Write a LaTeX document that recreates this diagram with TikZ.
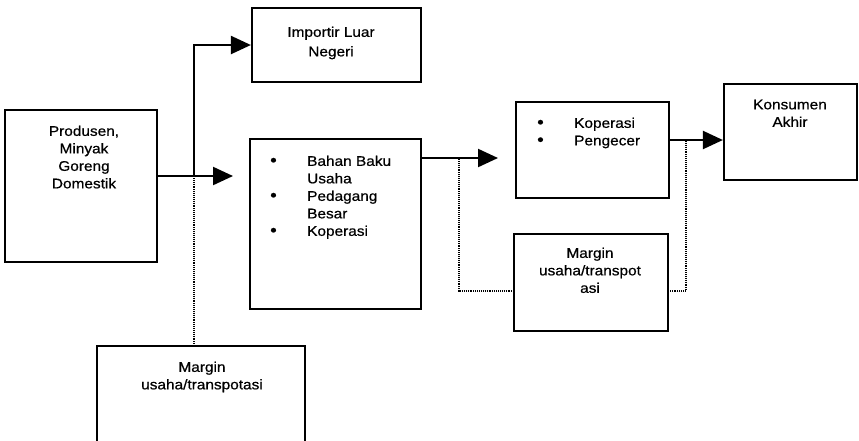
\documentclass[tikz,border=0pt]{standalone}
\usepackage{fontspec}
\setmainfont{Liberation Sans}[FakeStretch=1.1,FakeBold=0.6]
\usetikzlibrary{arrows.meta,fit}
\newcommand{\bul}{\makebox[37pt][l]{\fontsize{17}{17}\selectfont\textbullet}}
\begin{document}
\begin{tikzpicture}[x=1pt,y=-1pt,
  box/.style={draw=black,line width=2.2pt,inner sep=0pt},
  txt/.style={inner sep=0pt,anchor=north,align=center,font=\fontsize{14}{17.5}\selectfont},
  ltxt/.style={inner sep=0pt,anchor=north west,align=left,font=\fontsize{14}{17.5}\selectfont},
  flow/.style={line width=2.2pt,-{Triangle[length=20pt,width=18pt]}},
  dotline/.style={line width=1.3pt,dash pattern=on 1pt off 0.9pt}]
\useasboundingbox (0,0) rectangle (859,440);
% boxes
\node[box,fit={(252,8) (421,82)}] (imp) {};
\node[box,fit={(5,110) (157,262)}] (prod) {};
\node[box,fit={(250,139) (421,309)}] (bahan) {};
\node[box,fit={(516,102) (669,198)}] (kop) {};
\node[box,fit={(724,84) (857,180)}] (kons) {};
\node[box,fit={(514,234) (668,331)}] (margr) {};
\node[inner sep=0pt,fit={(97,346) (305,445)}] (margb) {};
\draw[line width=2.2pt] (margb.south west) -- (margb.north west) -- (margb.north east) -- (margb.south east);
% texts
\node[txt] (impT) at (331,26.5) {Importir Luar\\[2pt]Negeri};
\node[txt] (prodT) at (84,125.5) {Produsen,\\Minyak\\Goreng\\Domestik};
\node[ltxt] (bahanT) at (270,155.5) {\bul Bahan Baku\\
  \hspace*{37pt}Usaha\\
  \bul Pedagang\\
  \hspace*{37pt}Besar\\
  \bul Koperasi};
\node[ltxt] (kopT) at (537,117.5) {\bul Koperasi\\
  \bul Pengecer};
\node[txt] (konsT) at (790,99.5) {Konsumen\\Akhir};
\node[txt] (margrT) at (590,247.5) {Margin\\usaha/transpot\\asi};
\node[txt] (margbT) at (202,361.5) {Margin\\usaha/transpotasi};
% connector points
\coordinate (pout) at (prod.east |- 0,176);
\coordinate (split) at (194,176);
\coordinate (tipA) at (233,176);
\coordinate (bout) at (bahan.east |- 0,158);
\coordinate (tipB) at (498,158);
\coordinate (kout) at (kop.east |- 0,140);
\coordinate (kin) at (kons.west |- 0,140);
\coordinate (d1) at (459,159);
\coordinate (d2) at (686,141);
\coordinate (mj) at (0,291);
% solid connectors
\draw[flow] (pout) -- (tipA);
\draw[flow] (split) |- (imp.west);
\draw[flow] (bout) -- (tipB);
\draw[flow] (kout) -- (kin);
% dotted connectors
\draw[dotline] (split) -- (margb.north -| split);
\draw[dotline] (d1) |- (margr.west |- mj);
\draw[dotline] (d2) |- (margr.east |- mj);
\end{tikzpicture}
\end{document}
